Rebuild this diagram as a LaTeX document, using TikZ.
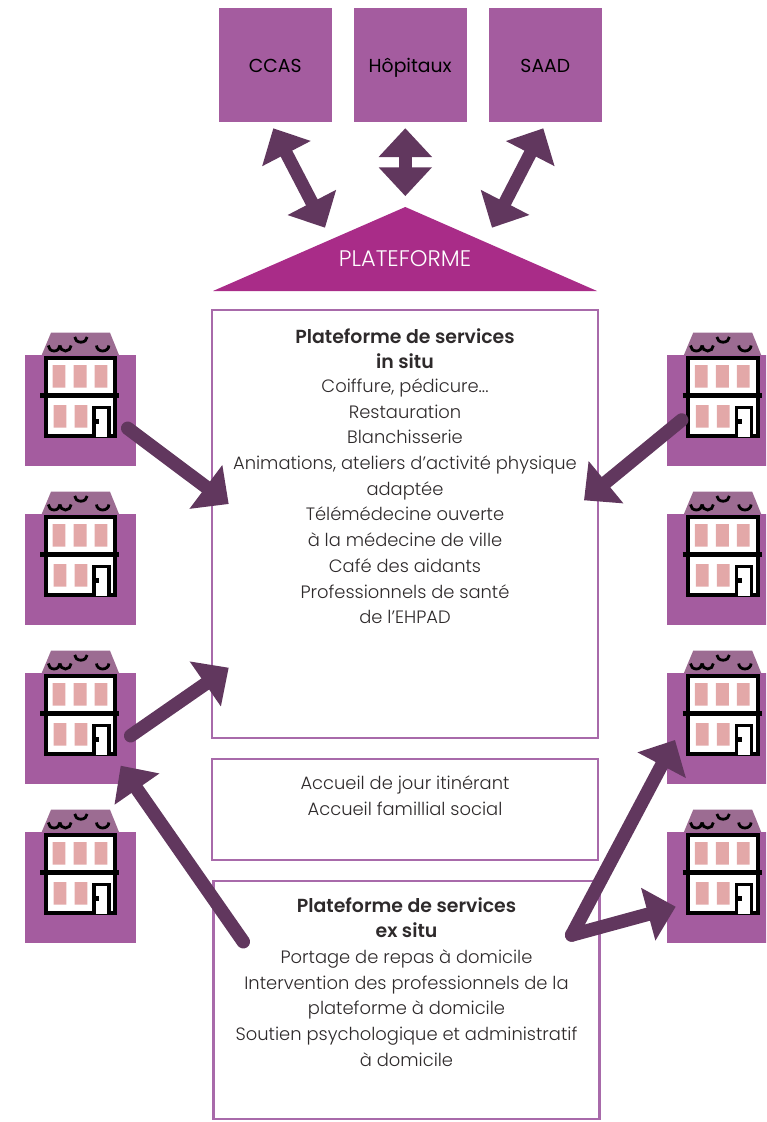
\documentclass[tikz,border=0pt]{standalone}
\usepackage{fontspec}
\setmainfont{Poppins Light}[BoldFont={Poppins SemiBold}]
\newfontfamily\labelfont{Poppins}
\usetikzlibrary{arrows.meta}
\definecolor{sq}{HTML}{A45C9F}
\definecolor{arr}{HTML}{61375E}
\definecolor{tri}{HTML}{A92C88}
\definecolor{roof}{HTML}{9C6C92}
\definecolor{win}{HTML}{E3A8A8}
\definecolor{edge}{HTML}{A86AAA}
\definecolor{txt}{HTML}{2E2A2B}
\tikzset{
  sqbox/.style={fill=sq,draw=none,minimum width=113pt,minimum height=114pt,inner sep=0,font=\labelfont\fontsize{18.8}{22}\selectfont\color{black}},
  sqlabel/.style={inner sep=0,text height=14pt,text depth=0pt,anchor=base,font=\labelfont\fontsize{18.8}{22}\selectfont\color{black}},
  panel/.style={draw=edge,line width=2.4pt,fill=white},
  body/.style={align=center,anchor=north,inner sep=0,text=txt,font=\fontsize{17.9}{25.7}\selectfont},
  link/.style={draw=arr,line width=13.5pt,line cap=round,-{Triangle[length=28.5pt,width=53pt,fill=arr]}},
  both/.style={draw=arr,line width=13pt,{Triangle[length=28.5pt,width=53pt,fill=arr]}-{Triangle[length=28.5pt,width=53pt,fill=arr]}},
}
\newcommand{\bt}[1]{{\bfseries\fontsize{18.9}{25.7}\selectfont #1}}
\newcommand{\house}[2]{%
\begin{scope}[shift={(#1,#2)}]
 \fill[sq] (0,0) rectangle (111,111);
 \fill[roof] (26.5,-22.3) -- (85.5,-22.3) -- (94.5,0) -- (17.2,0) -- cycle;
 \fill[white] (19.5,1) rectangle (92.8,83);
 \fill[win] (28.2,10) rectangle (40.8,32.7) (49.2,10) rectangle (62.2,32.7) (70.2,10) rectangle (82.8,32.7);
 \fill[win] (29.2,50) rectangle (41.8,72.7) (50.2,50) rectangle (62.8,72.7);
 \draw[black,line width=4pt] (21.5,3) rectangle (90.8,81);
 \draw[black,line width=5pt] (15.8,40.3) -- (94.8,40.3);
 \draw[black,line width=3.4pt,fill=white] (69.5,82) -- (69.5,52.4) -- (84.5,52.4) -- (84.5,82);
 \draw[black,line width=5pt] (70,66.3) -- (74.8,66.3);
 \begin{scope}[black,line width=2.8pt]
  \draw (23.8,-9.5) arc[start angle=180,end angle=0,x radius=5.8,y radius=5.5];
  \draw (35.4,-9.5) arc[start angle=180,end angle=0,x radius=5.6,y radius=5.5];
  \draw (50.2,-18) arc[start angle=180,end angle=0,x radius=6.2,y radius=5.2];
  \draw (72,-9.5) arc[start angle=180,end angle=0,x radius=6.2,y radius=5.5];
 \end{scope}
\end{scope}}
\begin{document}
\begin{tikzpicture}[x=1pt,y=-1pt]
\useasboundingbox (0,0) rectangle (766,1122);
\clip (0,0) rectangle (766,1122);
\node[sqbox] (ccas) at (275.2,65) {};
\node[sqbox] (hop) at (410.2,65) {};
\node[sqbox] (saad) at (545.3,65) {};
\node[sqlabel] (lccas) at (275.2,72) {CCAS};
\node[sqlabel] (lhop) at (410.2,72) {Hôpitaux};
\node[sqlabel] (lsaad) at (545.3,72) {SAAD};
\fill[tri] (405.3,207) coordinate (apex) -- (597,291) -- (213,291) -- cycle;
\node[text=white,inner sep=0,font=\fontsize{22.5}{25}\selectfont] (plat) at (405,259) {PLATEFORME};

\house{24.5}{355}\house{24.5}{514}\house{24.5}{673}\house{24.5}{832}
\house{666.7}{355}\house{666.7}{514}\house{666.7}{673}\house{666.7}{832}

\node[panel,minimum width=386pt,minimum height=428pt,inner sep=0] (insitu) at (405,524) {};
\node[panel,minimum width=386pt,minimum height=101pt,inner sep=0] (jour) at (405,809.5) {};
\node[panel,minimum width=386pt,minimum height=238pt,inner sep=0] (exsitu) at (406.5,1000) {};

\node[body] (t1) at (405,328) {\bt{Plateforme de services}\\\bt{in situ}\\[-2pt]Coiffure, pédicure...\\Restauration\\Blanchisserie\\Animations, ateliers d’activité physique\\adaptée\\Télémédecine ouverte\\à la médecine de ville\\Café des aidants\\Professionnels de santé\\de l’EHPAD};
\node[body] (t2) at (405,776) {Accueil de jour itinérant\\Accueil famillial social};
\node[body] (t3) at (406.5,897) {\bt{Plateforme de services}\\\bt{ex situ}\\Portage de repas à domicile\\Intervention des professionnels de la\\plateforme à domicile\\Soutien psychologique et administratif\\à domicile};

\coordinate (a1) at (273.3,128.3); \coordinate (a2) at (325,227.7);
\coordinate (c1) at (543.3,128.3); \coordinate (c2) at (492,227.7);
\coordinate (b1) at (405.3,128.3); \coordinate (b2) at (405.3,196);
\draw[both] (a1) -- (a2);
\draw[both] (c1) -- (c2);
\fill[arr] (b1) -- (432,157) -- (378.6,157) -- cycle;
\fill[arr] (b2) -- (432,167.3) -- (378.6,167.3) -- cycle;
\fill[arr] (399,150) rectangle (412,175);

\coordinate (l1s) at (127.7,428.3); \coordinate (l1e) at (228.7,504);
\coordinate (l3s) at (130.7,735.7); \coordinate (l3e) at (228.7,667.7);
\coordinate (l4s) at (243.3,941.7); \coordinate (l4e) at (120.7,765.7);
\coordinate (r1s) at (681.7,420); \coordinate (r1e) at (584,500.3);
\coordinate (r3s) at (571.7,935); \coordinate (r3e) at (675,740);
\coordinate (r4e) at (675.7,906.7);
\draw[link] (l1s) -- (l1e);
\draw[link] (l3s) -- (l3e);
\draw[link] (l4s) -- (l4e);
\draw[link] (r1s) -- (r1e);
\draw[link] (r3s) -- (r3e);
\draw[link] (r3s) -- (r4e);
\end{tikzpicture}
\end{document}
